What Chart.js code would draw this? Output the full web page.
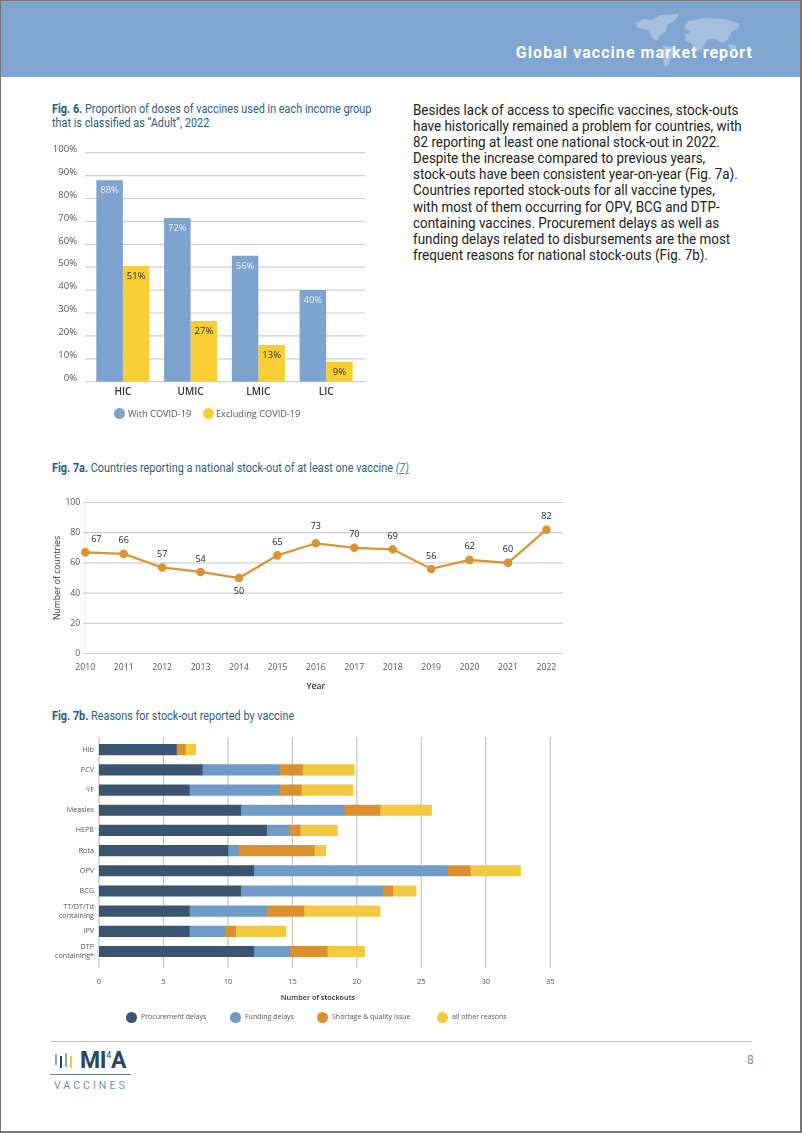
<!DOCTYPE html>
<html>
<head>
<meta charset="utf-8">
<title>Global vaccine market report</title>
<script src="https://cdn.jsdelivr.net/npm/chart.js@4"></script>
<style>
  html, body { margin: 0; padding: 0; background: #fff; }
  #page { position: relative; width: 802px; height: 1133px; overflow: hidden; font-family: "Roboto", sans-serif; }
  #page div, #page canvas, #page svg { position: absolute; }
  #frame { left: 0; top: 0; width: 799px; height: 1130px; border: 1px solid #777; border-width: 1px 2px 2px 1px; pointer-events: none; }
  #header { left: 0; top: 0; width: 802px; height: 77px; background: #7fa5d0; }
  #headerTitle { right: 49px; top: 43px; color: #fff; font-weight: 700; font-size: 16px; letter-spacing: 1.05px; white-space: nowrap; }
  .figTitle { left: 52px; color: #2b6186; font-size: 12px; line-height: 13.5px; white-space: nowrap; transform: scaleX(0.905); transform-origin: left top; }
  .figTitle b { color: #1b5a84; }
  .figTitle i { color: #4a86b8; text-decoration: underline; }
  #bodyText { left: 413px; top: 103px; font-size: 14.4px; line-height: 16.1px; color: #222; white-space: nowrap; transform: scaleX(0.932); transform-origin: left top; }
  .dot { width: 11px; height: 11px; border-radius: 50%; }
  .legendText { font-family: "Open Sans", sans-serif; color: #555; white-space: nowrap; }
  #stockoutTitle { left: 258px; width: 120px; top: 992px; text-align: center; font: 600 7.3px "Open Sans", sans-serif; color: #333; }
  #footerLine { left: 51px; top: 1041px; width: 701px; height: 1px; background: #bbb; }
  #pageNum { left: 747px; top: 1053px; font-size: 12px; color: #888; }
  #logoText { left: 80px; top: 1047px; font-size: 23px; font-weight: 700; color: #2c4560; letter-spacing: -0.3px; white-space: nowrap; }
  #logoText sup { font-size: 9px; font-weight: 400; vertical-align: 10px; line-height: 0; }
  #logoLine { left: 50px; top: 1074px; width: 81px; height: 1px; background: #6f7f92; }
  #logoSub { left: 54px; top: 1079px; font-size: 10.5px; letter-spacing: 3.05px; color: #6f8fb5; white-space: nowrap; }
  .logoBar { width: 2px; }
</style>
</head>
<body>
<div id="page">
  <div id="header"></div>
  <svg style="left:630px;top:10px" width="125" height="62" viewBox="0 0 125 62">
    <g fill="#fff" fill-opacity="0.3">
      <path d="M5 13 L14 9 L22 10 L30 5 L50 4 L44 11 L38 14 L36 21 L30 26 L27 31 L22 28 L18 20 L8 18 Z"/>
      <path d="M33 35 L43 38 L46 41 L42 47 L37 57 L34 56 L33 46 Z"/>
      <path d="M54 18 L58 11 L74 8 L96 9 L110 14 L107 19 L101 22 L98 30 L92 33 L86 29 L78 29 L75 34 L72 40 L66 41 L62 34 L56 31 L55 25 L60 22 Z"/>
      <path d="M98 34 L106 35 L106 39 L99 39 Z"/>
    </g>
  </svg>
  <div id="headerTitle">Global vaccine market report</div>

  <div class="figTitle" style="top:103px"><b>Fig. 6.</b> Proportion of doses of vaccines used in each income group<br>that is classified as “Adult”, 2022</div>
  <div id="bodyText">Besides lack of access to specific vaccines, stock-outs<br>have historically remained a problem for countries, with<br>82 reporting at least one national stock-out in 2022.<br>Despite the increase compared to previous years,<br>stock-outs have been consistent year-on-year (Fig. 7a).<br>Countries reported stock-outs for all vaccine types,<br>with most of them occurring for OPV, BCG and DTP-<br>containing vaccines. Procurement delays as well as<br>funding delays related to disbursements are the most<br>frequent reasons for national stock-outs (Fig. 7b).</div>

  <canvas id="adultChart" style="left:40px;top:135px" width="340" height="295"></canvas>
  <div id="adultLegend"></div>

  <div class="figTitle" style="top:462px"><b>Fig. 7a.</b> Countries reporting a national stock-out of at least one vaccine <i>(7)</i></div>
  <canvas id="stockoutChart" style="left:30px;top:490px" width="550" height="205"></canvas>

  <div class="figTitle" style="top:710px"><b>Fig. 7b.</b> Reasons for stock-out reported by vaccine</div>
  <canvas id="reasonChart" style="left:30px;top:725px" width="540" height="280"></canvas>
  <div id="stockoutTitle">Number of stockouts</div>
  <div id="reasonLegend"></div>

  <div id="footerLine"></div>
  <div id="pageNum">8</div>
  <div class="logoBar" style="left:55px;top:1054px;height:11px;background:#7fa5d0"></div>
  <div class="logoBar" style="left:60px;top:1056px;height:12px;background:#2c4560"></div>
  <div class="logoBar" style="left:65px;top:1053px;height:14px;background:#7fa5d0"></div>
  <div class="logoBar" style="left:70px;top:1056px;height:12px;background:#f3c93f"></div>
  <div id="logoText">MI<sup>4</sup>A</div>
  <div id="logoLine"></div>
  <div id="logoSub">VACCINES</div>
  <div id="frame"></div>
</div>

<script>
// Fig. 6
const incomeGroups = ["HIC", "UMIC", "LMIC", "LIC"];
const withCovid = [88, 71.5, 55, 40];
const excludingCovid = [50.5, 26.5, 16, 8.7];
const withCovidLabels = ["88%", "72%", "56%", "40%"];
const excludingCovidLabels = ["51%", "27%", "13%", "9%"];

// Fig. 7a
const years = ["2010", "2011", "2012", "2013", "2014", "2015", "2016", "2017", "2018", "2019", "2020", "2021", "2022"];
const countries = [67, 66, 57, 54, 50, 65, 73, 70, 69, 56, 62, 60, 82];

// Fig. 7b
const vaccines = ["Hib", "PCV", "YF", "Measles", "HEPB", "Rota", "OPV", "BCG", ["TT/DT/Td", "containing"], "IPV", ["DTP", "containing*"]];
const procurementDelays = [6, 8, 7, 11, 13, 10, 12, 11, 7, 7, 12];
const fundingDelays = [0, 6, 7, 8, 1.8, 0.8, 15, 11, 6, 2.8, 2.8];
const shortageQuality = [0.7, 1.8, 1.7, 2.8, 0.8, 5.9, 1.8, 0.8, 2.9, 0.8, 2.9];
const otherReasons = [0.8, 4, 4, 4, 2.9, 0.9, 3.9, 1.8, 5.9, 3.9, 2.9];

const BLUE = "#7fa3cf", YELLOW = "#f8ce33", LINE = "#dd9234";
const NAVY = "#3b5470", MIDBLUE = "#6f9bc8", ORANGE = "#dc9130", GOLD = "#f3c93f";

Chart.defaults.font.family = '"Open Sans", sans-serif';
Chart.defaults.animation = false;
Chart.defaults.responsive = false;
Chart.defaults.plugins.legend.display = false;
Chart.defaults.plugins.tooltip.enabled = false;

// gridlines in the original run a bit past the plot area (from/to are canvas px)
const longGrid = {
  id: "longGrid",
  beforeDatasetsDraw(chart, args, opts) {
    const ctx = chart.ctx;
    const scale = chart.scales[opts.axis];
    ctx.save();
    ctx.strokeStyle = opts.color;
    ctx.lineWidth = opts.width;
    scale.ticks.forEach((t, i) => {
      const p = scale.getPixelForTick(i);
      ctx.beginPath();
      if (opts.axis === "y") { ctx.moveTo(opts.from, p); ctx.lineTo(opts.to, p); }
      else { ctx.moveTo(p, opts.from); ctx.lineTo(p, opts.to); }
      ctx.stroke();
    });
    ctx.restore();
  }
};

// value labels for fig 6, just under the top of each bar
const barLabels = {
  id: "barLabels",
  afterDatasetsDraw(chart) {
    const ctx = chart.ctx;
    ctx.save();
    ctx.font = '9.5px "Open Sans", sans-serif';
    ctx.textAlign = "center";
    ctx.textBaseline = "middle";
    chart.data.datasets.forEach((ds, d) => {
      ctx.fillStyle = d === 0 ? "#eaf0f8" : "#333";
      chart.getDatasetMeta(d).data.forEach((bar, i) => {
        ctx.fillText(ds.valueLabels[i], bar.x, bar.y + 10.5);
      });
    });
    ctx.restore();
  }
};

// value labels for fig 7a, above the points except 2014
const pointLabels = {
  id: "pointLabels",
  afterDatasetsDraw(chart) {
    const ctx = chart.ctx;
    ctx.save();
    ctx.font = '9px "Open Sans", sans-serif';
    ctx.fillStyle = "#222";
    ctx.textAlign = "center";
    ctx.textBaseline = "middle";
    chart.getDatasetMeta(0).data.forEach((pt, i) => {
      const dx = i === 0 ? 11 : 0;
      const dy = i === 4 ? 13 : (i === 6 ? -17 : -13);
      ctx.fillText(countries[i], pt.x + dx, pt.y + dy);
    });
    ctx.restore();
  }
};

new Chart(document.getElementById("adultChart"), {
  type: "bar",
  data: {
    labels: incomeGroups,
    datasets: [
      { label: "With COVID-19", data: withCovid, backgroundColor: BLUE, valueLabels: withCovidLabels },
      { label: "Excluding COVID-19", data: excludingCovid, backgroundColor: YELLOW, valueLabels: excludingCovidLabels }
    ]
  },
  options: {
    layout: { padding: { right: 20 } },
    datasets: { bar: { barPercentage: 1, categoryPercentage: 0.783 } },
    scales: {
      x: {
        afterFit: s => { s.height = 48.3; },
        grid: { display: false, drawTicks: false },
        border: { display: false },
        ticks: { color: "#333", padding: 4.5, font: { size: 10, weight: "600" } }
      },
      y: {
        min: 0, max: 100,
        afterFit: s => { s.width = 49; },
        grid: { display: false, drawTicks: false },
        border: { display: false },
        ticks: { stepSize: 10, color: "#555", padding: 12, labelOffset: -3.5, font: { size: 9.5 }, callback: v => v + "%" }
      }
    },
    plugins: { longGrid: { axis: "y", from: 45, to: 325, color: "#cfcfcf", width: 1.2 } }
  },
  plugins: [longGrid, barLabels]
});

new Chart(document.getElementById("stockoutChart"), {
  type: "line",
  data: {
    labels: years,
    datasets: [{
      label: "Number of countries",
      data: countries,
      borderColor: LINE,
      backgroundColor: LINE,
      borderWidth: 2.2,
      pointRadius: 3.2,
      tension: 0
    }]
  },
  options: {
    layout: { padding: { top: 12.5, right: 33.6 } },
    scales: {
      x: {
        afterFit: s => { s.height = 41.5; },
        grid: { display: false, drawTicks: false },
        border: { display: false },
        title: { display: true, text: "Year", color: "#333", font: { size: 8.5, weight: "600" }, padding: { top: 0, bottom: 3 } },
        ticks: { color: "#555", padding: 9, autoSkip: false, maxRotation: 0, font: { size: 8.7 } }
      },
      y: {
        min: 0, max: 100,
        afterFit: s => { s.width = 55.3; },
        grid: { display: false, drawTicks: false },
        border: { display: true, color: "#eeeeee" },
        title: { display: true, text: "Number of countries", color: "#333", font: { size: 8.7 }, padding: { top: 22, bottom: 0 } },
        ticks: { stepSize: 20, color: "#555", padding: 5, font: { size: 8.7 } }
      }
    },
    plugins: { longGrid: { axis: "y", from: 53, to: 533, color: "#cfcfcf", width: 1.2 } }
  },
  plugins: [longGrid, pointLabels]
});

new Chart(document.getElementById("reasonChart"), {
  type: "bar",
  data: {
    labels: vaccines,
    datasets: [
      { label: "Procurement delays", data: procurementDelays, backgroundColor: NAVY },
      { label: "Funding delays", data: fundingDelays, backgroundColor: MIDBLUE },
      { label: "Shortage & quality issue", data: shortageQuality, backgroundColor: ORANGE },
      { label: "all other reasons", data: otherReasons, backgroundColor: GOLD }
    ]
  },
  options: {
    indexAxis: "y",
    layout: { padding: { top: 14.6, right: 17 } },
    datasets: { bar: { barThickness: 10.5 } },
    scales: {
      x: {
        stacked: true,
        min: 0, max: 35,
        afterFit: s => { s.height = 43.4; },
        grid: { display: false, drawTicks: false },
        border: { display: false },
        ticks: { stepSize: 5, color: "#555", padding: 15.5, font: { size: 7.5 } }
      },
      y: {
        stacked: true,
        afterFit: s => { s.width = 69; },
        grid: { display: false, drawTicks: false },
        border: { display: false },
        ticks: { color: "#555", padding: 5, autoSkip: false, font: { size: 7.2 } }
      }
    },
    plugins: { longGrid: { axis: "x", from: 12, to: 243, color: "#c8c8c8", width: 1.3 } }
  },
  plugins: [longGrid]
});

// html legends, placed by hand like the page layout
function addLegend(hostId, entries, top, fontSize) {
  const host = document.getElementById(hostId);
  entries.forEach(e => {
    const dot = document.createElement("div");
    dot.className = "dot";
    dot.style.cssText = "left:" + e.x + "px;top:" + (top - 5.5) + "px;background:" + e.color;
    const txt = document.createElement("div");
    txt.className = "legendText";
    txt.textContent = e.name;
    txt.style.cssText = "left:" + e.textX + "px;top:" + (top - fontSize * 0.7) + "px;font-size:" + fontSize + "px";
    host.appendChild(dot);
    host.appendChild(txt);
  });
}
addLegend("adultLegend", [
  { name: "With COVID-19", color: BLUE, x: 113.5, textX: 128 },
  { name: "Excluding COVID-19", color: YELLOW, x: 202.5, textX: 216 }
], 413, 9.2);
addLegend("reasonLegend", [
  { name: "Procurement delays", color: NAVY, x: 126, textX: 141 },
  { name: "Funding delays", color: MIDBLUE, x: 229.5, textX: 245 },
  { name: "Shortage & quality issue", color: ORANGE, x: 316.5, textX: 332 },
  { name: "all other reasons", color: GOLD, x: 436.5, textX: 452 }
], 1017, 7);
</script>
</body>
</html>
